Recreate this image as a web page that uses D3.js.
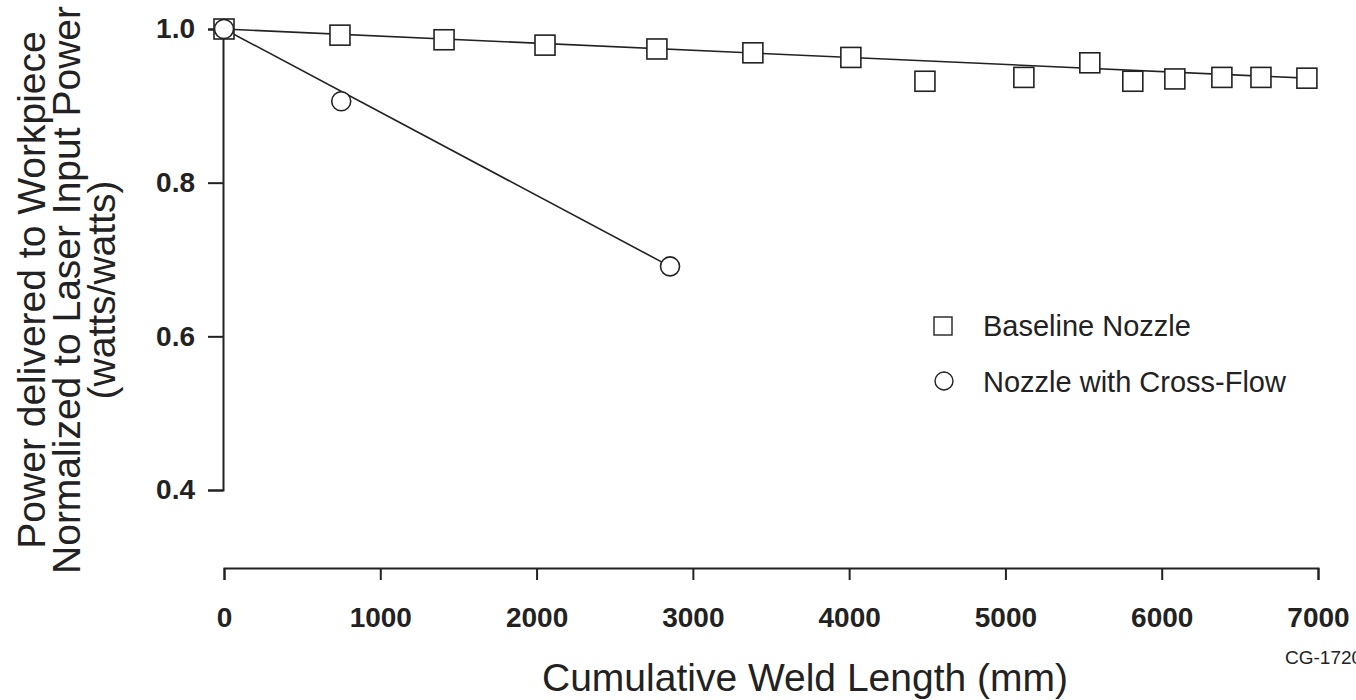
<!DOCTYPE html>
<html><head><meta charset="utf-8">
<script src="https://cdn.jsdelivr.net/npm/d3@7"></script>
<style>body{margin:0;background:#fff}</style>
</head><body>
<svg id="c" width="1356" height="700"></svg>
<script>
// ---- data ----
const baselineX = [0, 742, 1408, 2054, 2770, 3384, 4011, 4485, 5118, 5540, 5815, 6084, 6385, 6635, 6929];
const baselineY = [1.0, 0.992, 0.986, 0.979, 0.974, 0.969, 0.963, 0.932, 0.937, 0.956, 0.932, 0.935, 0.937, 0.937, 0.936];
const baselineFitX = [0, 6929];
const baselineFitY = [1.0, 0.936];
const crossX = [0, 750, 2854];
const crossY = [1.0, 0.906, 0.691];
const crossFitX = [0, 2854];
const crossFitY = [1.0, 0.691];
const xTicks = [0, 1000, 2000, 3000, 4000, 5000, 6000, 7000];
const xTickLabels = ["0", "1000", "2000", "3000", "4000", "5000", "6000", "7000"];
const yTicks = [0.4, 0.6, 0.8, 1.0];
const yTickLabels = ["0.4", "0.6", "0.8", "1.0"];
const legendLabels = ["Baseline Nozzle", "Nozzle with Cross-Flow"];
const yTitleLines = ["Power delivered to Workpiece", "Normalized to Laser Input Power", "(watts/watts)"];
const xTitle = "Cumulative Weld Length (mm)";
const figId = "CG-1720";

// ---- drawing ----
const svg = d3.select("#c");
const ink = "#222";
const font = "'Liberation Sans', Arial, Helvetica, sans-serif";
const x = d3.scaleLinear().domain([0, 7000]).range([224, 1318]);
const y = d3.scaleLinear().domain([0.4, 1.0]).range([490, 29]);

svg.append("rect").attr("width", 1356).attr("height", 700).attr("fill", "#fff");

const gx = svg.append("g").attr("transform", "translate(0,568)")
  .call(d3.axisBottom(x).tickValues(xTicks).tickFormat((d, i) => xTickLabels[i]).tickSize(12).tickPadding(27));
gx.select(".domain").attr("stroke", ink).attr("stroke-width", 2);
gx.selectAll(".tick line").attr("stroke", ink).attr("stroke-width", 2);
gx.selectAll(".tick text").attr("fill", ink).attr("font-size", 28).attr("font-weight", "bold").attr("font-family", font);

const gy = svg.append("g").attr("transform", "translate(223,0)")
  .call(d3.axisLeft(y).tickValues(yTicks).tickFormat((d, i) => yTickLabels[i]).tickSize(15).tickPadding(13));
gy.select(".domain").attr("stroke", ink).attr("stroke-width", 2);
gy.selectAll(".tick line").attr("stroke", ink).attr("stroke-width", 2);
gy.selectAll(".tick text").attr("fill", ink).attr("font-size", 28).attr("font-weight", "bold").attr("font-family", font);

const line = d3.line().x(d => x(d[0])).y(d => y(d[1]));
svg.append("path").datum(baselineFitX.map((v, i) => [v, baselineFitY[i]]))
  .attr("d", line).attr("fill", "none").attr("stroke", ink).attr("stroke-width", 1.6);
svg.append("path").datum(crossFitX.map((v, i) => [v, crossFitY[i]]))
  .attr("d", line).attr("fill", "none").attr("stroke", ink).attr("stroke-width", 1.6);

const sq = 20;
svg.append("g").selectAll("rect").data(baselineX.map((v, i) => [v, baselineY[i]])).join("rect")
  .attr("x", d => x(d[0]) - sq / 2).attr("y", d => y(d[1]) - sq / 2)
  .attr("width", sq).attr("height", sq)
  .attr("fill", "#fff").attr("stroke", ink).attr("stroke-width", 1.6);
svg.append("g").selectAll("circle").data(crossX.map((v, i) => [v, crossY[i]])).join("circle")
  .attr("cx", d => x(d[0])).attr("cy", d => y(d[1])).attr("r", 9.5)
  .attr("fill", "#fff").attr("stroke", ink).attr("stroke-width", 1.6);

// legend
const lg = svg.append("g").attr("font-family", font).attr("fill", ink);
lg.append("rect").attr("x", 934).attr("y", 317).attr("width", 18).attr("height", 18)
  .attr("fill", "#fff").attr("stroke", ink).attr("stroke-width", 1.4);
lg.append("text").attr("x", 983).attr("y", 336).attr("font-size", 29).text(legendLabels[0]);
lg.append("circle").attr("cx", 944).attr("cy", 381).attr("r", 9)
  .attr("fill", "#fff").attr("stroke", ink).attr("stroke-width", 1.4);
lg.append("text").attr("x", 983).attr("y", 392).attr("font-size", 29).text(legendLabels[1]);

// titles
svg.append("text").attr("x", 542).attr("y", 691).attr("font-family", font).attr("font-size", 39)
  .attr("fill", ink).text(xTitle);

const yt = svg.append("g").attr("font-family", font).attr("fill", ink).attr("font-size", 39);
const yBase = [45, 80, 115];
yTitleLines.forEach((t, i) => {
  yt.append("text").attr("transform", `translate(${yBase[i]},290) rotate(-90)`)
    .attr("text-anchor", "middle").text(t);
});

svg.append("text").attr("x", 1285).attr("y", 664).attr("font-family", font).attr("font-size", 19)
  .attr("fill", ink).text(figId);
</script>
</body></html>
